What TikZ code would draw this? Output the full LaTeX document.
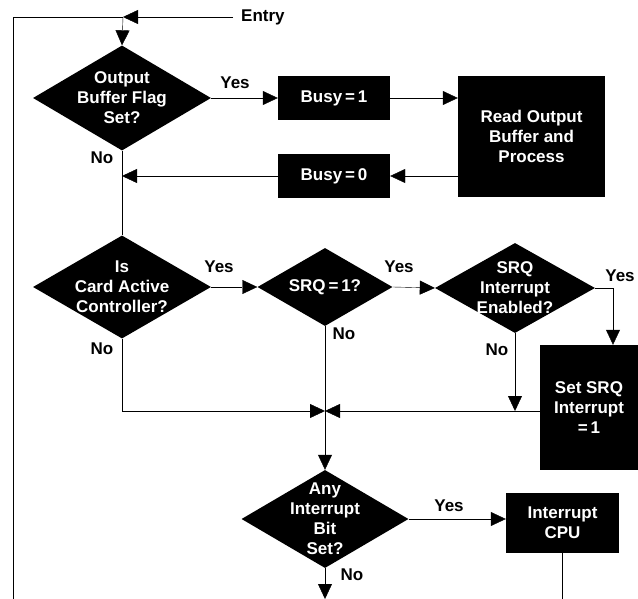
\documentclass[tikz,border=0pt]{standalone}
\usepackage{fontspec}
\setmainfont{Liberation Sans}
\usetikzlibrary{shapes.geometric, arrows.meta}

\tikzset{
  x=1pt, y=-1pt,
  every node/.style={font=\bfseries\fontsize{17}{20}\selectfont},
  box/.style={rectangle, fill=black, text=white, inner sep=0pt, align=center},
  dec/.style={diamond, fill=black, text=white, inner sep=-15pt, align=center},
  lab/.style={inner sep=0pt},
  arr/.style={-{Triangle[length=15pt,width=14pt]}},
  line width=1.6pt
}

\begin{document}
\begin{tikzpicture}
\useasboundingbox (0,0) rectangle (638,599);

\node[dec, minimum width=178pt, minimum height=105pt] (d1) at (122,98) {Output\\Buffer Flag\\Set?};
\node[box, minimum width=112pt, minimum height=44pt] (b1) at (334,98) {Busy\,=\,1};
\node[box, minimum width=147pt, minimum height=121pt] (rd) at (531.5,136.5) {Read Output\\Buffer and\\Process};
\node[box, minimum width=112pt, minimum height=44pt] (b0) at (334,176) {Busy\,=\,0};
\node[dec, minimum width=178pt, minimum height=103pt] (d2) at (122,287) {Is\\Card Active\\Controller?};
\node[dec, minimum width=135pt, minimum height=78pt] (d3) at (325,287) {SRQ\,=\,1?};
\node[dec, minimum width=160pt, minimum height=90pt] (d4) at (515,288) {SRQ\\Interrupt\\Enabled?};
\node[box, minimum width=98pt, minimum height=125pt] (ss) at (589,407.5) {Set SRQ\\Interrupt\\=\,1};
\node[dec, minimum width=167pt, minimum height=98pt] (d5) at (325,519) {Any\\Interrupt\\Bit\\Set?};
\node[box, minimum width=113pt, minimum height=60pt] (ic) at (562.5,523) {Interrupt\\CPU};

\node[lab, anchor=west, inner xsep=8pt] (en) at (233,17) {Entry};
\coordinate (j0) at (123,17);
\coordinate (lp) at (13,599);
\coordinate (m) at (325,411);
\coordinate (yr) at (613,288);

% loop back and entry
\draw (lp) |- (j0);
\draw[arr] (en.west) -- (j0);
\draw[arr] (j0) -- (d1.north);

% output buffer
\draw[arr] (d1.east) -- (b1.west);
\draw[arr] (b1.east) -- (b1.east -| rd.west);
\draw[arr] (rd.west |- b0.east) -- (b0.east);
\draw[arr] (b0.west) -- (b0.west -| d1.south);
\draw (d1.south) -- (d2.north);

% controller / SRQ
\draw[arr] (d2.east) -- (d3.west);
\draw[arr] (d3.east) -- (d4.west);
\draw[arr] (d4.east) -- (yr) -- (ss.north -| yr);
\draw[arr] (d4.south) -- (d4.south |- m);
\draw[arr] (d2.south) |- (m);
\draw[arr] (ss.west |- m) -- (m);
\draw (d3.south) -- (m);
\draw[arr] (m) -- (d5.north);

% interrupt
\draw[arr] (d5.east) -- (ic.west |- d5.east);
\draw (ic.south) -- (ic.south |- lp);
\draw[arr] (d5.south) -- (d5.south |- lp);

\node[lab] (y1) at (235,83) {Yes};
\node[lab] (n1) at (102,158) {No};
\node[lab] (y2) at (219,267) {Yes};
\node[lab] (y3) at (399,267) {Yes};
\node[lab] (y4) at (620,276) {Yes};
\node[lab] (n3) at (344,334) {No};
\node[lab] (n4) at (497,350) {No};
\node[lab] (n2) at (102,349) {No};
\node[lab] (y5) at (449,506) {Yes};
\node[lab] (n5) at (352,575) {No};
\end{tikzpicture}
\end{document}
